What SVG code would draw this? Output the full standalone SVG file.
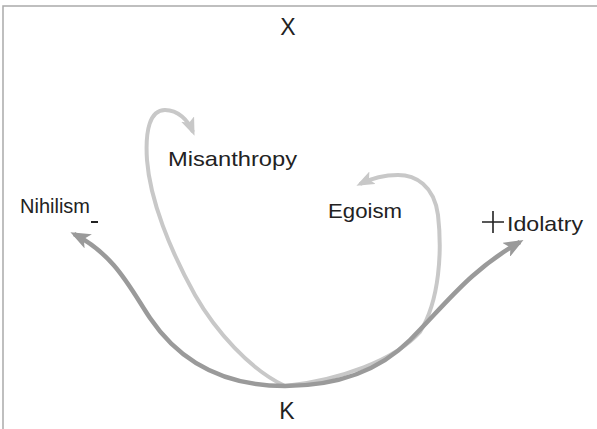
<svg xmlns="http://www.w3.org/2000/svg" width="597" height="429" viewBox="0 0 597 429">
<style>
.lbl{font-family:"Liberation Sans",Arial,sans-serif;font-size:21px;fill:#222}
.big{font-size:23px}
.dark{fill:none;stroke:#9a9a9a;stroke-width:4.5}
.light{fill:none;stroke:#c8c8c8;stroke-width:4}
</style>
<defs>
<marker id="ad" markerUnits="userSpaceOnUse" markerWidth="20" markerHeight="16" viewBox="0 0 20 16" refX="16" refY="8" orient="auto">
<path d="M0,0 L20,8 L0,16 L5,8 z" fill="#9a9a9a"/>
</marker>
<marker id="al" markerUnits="userSpaceOnUse" markerWidth="18" markerHeight="14" viewBox="0 0 18 14" refX="14" refY="7" orient="auto">
<path d="M0,0 L18,7 L0,14 L4,7 z" fill="#c8c8c8"/>
</marker>
</defs>
<rect width="597" height="429" fill="#fff"/>
<path d="M3,429 V6 H597" fill="none" stroke="#aaa" stroke-width="1.5"/>
<g id="connectors">
<path class="light" d="M285,386 C250,370 215,330 195,295 C170,250 150,200 147,160 C145,130 150,110 165,110 C178,110 188,120 193,132" marker-end="url(#al)"/>
<path class="light" d="M285,386 C340,380 395,360 420,332 C440,300 442,250 438,215 C434,185 415,175 398,175 C385,175 372,178 360,184" marker-end="url(#al)"/>
<path class="dark" d="M285,386 C215,386 175,355 150,318 C130,288 115,255 74,234" marker-end="url(#ad)"/>
<path class="dark" d="M285,386 C340,386 380,370 410,340 C445,305 470,270 520,242" marker-end="url(#ad)"/>
</g>
<g id="X"><text class="lbl big" x="288" y="35" text-anchor="middle">X</text></g>
<g id="K"><text class="lbl big" x="287" y="419" text-anchor="middle">K</text></g>
<g id="Misanthropy"><text class="lbl" x="168" y="166" textLength="129" lengthAdjust="spacingAndGlyphs">Misanthropy</text></g>
<g id="Nihilism"><text class="lbl" x="20" y="213" textLength="70" lengthAdjust="spacingAndGlyphs">Nihilism</text>
<rect x="91" y="221" width="7" height="2" fill="#222"/></g>
<g id="Egoism"><text class="lbl" x="328" y="218" textLength="74" lengthAdjust="spacingAndGlyphs">Egoism</text></g>
<g id="Idolatry"><text class="lbl" x="507" y="231" textLength="76" lengthAdjust="spacingAndGlyphs">Idolatry</text>
<path d="M482,222 H504 M493,211 V233" stroke="#222" stroke-width="1.6" fill="none"/></g>
</svg>
